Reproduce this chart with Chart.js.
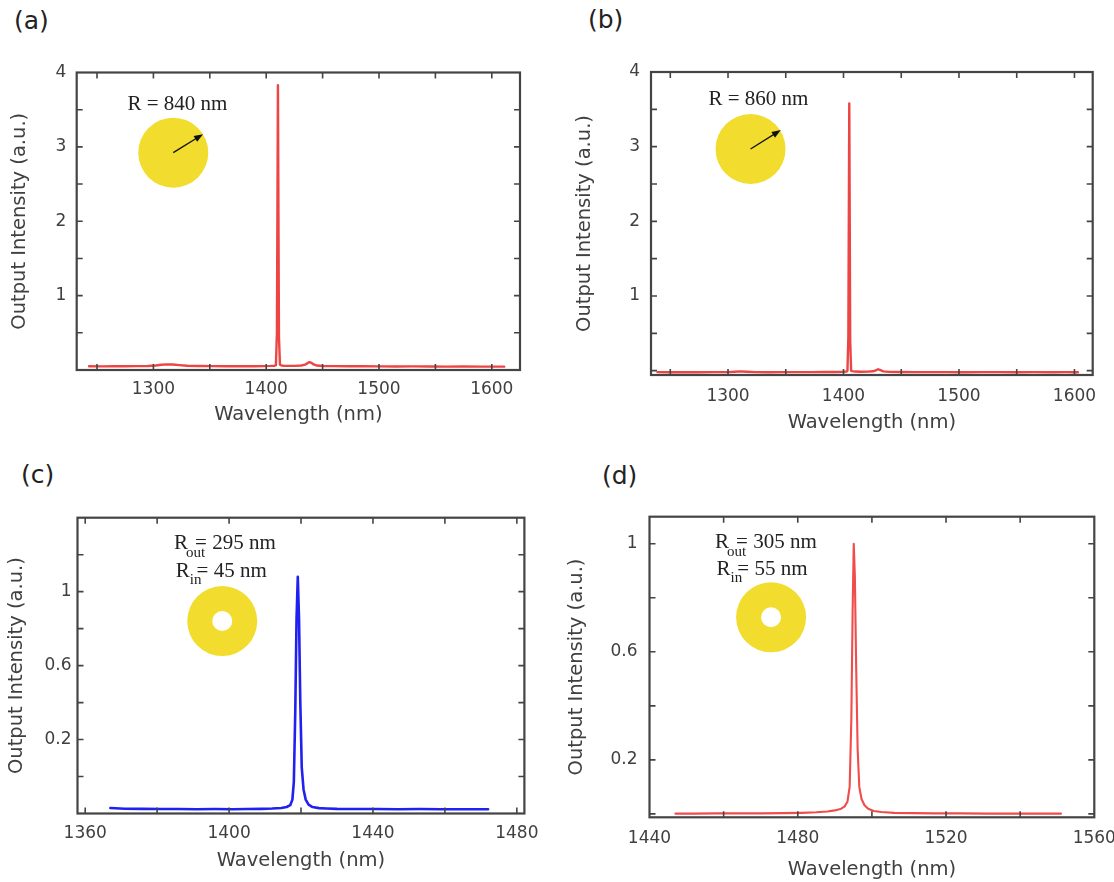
<!DOCTYPE html>
<html><head><meta charset="utf-8">
<script src="https://cdn.jsdelivr.net/npm/chart.js@4.4.1/dist/chart.umd.min.js"></script>
<style>
body{margin:0;background:#fff;width:1114px;height:882px;overflow:hidden;position:relative;font-family:"DejaVu Sans",sans-serif;}
canvas{position:absolute;left:0;top:0;}
.lbl{position:absolute;font-size:25px;line-height:25px;color:#222;font-family:"DejaVu Sans",sans-serif;}
</style></head><body>
<div class="lbl" style="left:14px;top:8px">(a)</div>
<div class="lbl" style="left:588px;top:7px">(b)</div>
<div class="lbl" style="left:21px;top:462px">(c)</div>
<div class="lbl" style="left:602px;top:463px">(d)</div>
<canvas id="ca" width="1114" height="882"></canvas>
<canvas id="cb" width="1114" height="882"></canvas>
<canvas id="cc" width="1114" height="882"></canvas>
<canvas id="cd" width="1114" height="882"></canvas>
<script>
// ---------- data ----------
const aWavelength = [1243,1255,1265,1275,1285,1295,1302,1307,1312,1317,1323,1330,1340,1352,1365,1378,1390,1398,1404,1407.5,1408.6,1409.5,1410.4,1411.3,1412.2,1413.5,1416,1420,1426,1431,1434.5,1437,1438.5,1440,1442,1445,1450,1460,1472,1485,1500,1515,1530,1545,1560,1575,1590,1600,1611];
const aIntensity  = [0.050,0.049,0.051,0.050,0.052,0.054,0.060,0.070,0.076,0.074,0.066,0.058,0.054,0.052,0.051,0.050,0.051,0.052,0.055,0.058,0.065,0.50,3.83,0.45,0.07,0.060,0.056,0.055,0.056,0.060,0.072,0.095,0.105,0.096,0.075,0.060,0.054,0.052,0.051,0.050,0.049,0.048,0.049,0.047,0.046,0.047,0.045,0.046,0.045];

const bWavelength = [1239,1250,1262,1275,1288,1300,1306,1311,1316,1324,1335,1348,1360,1372,1384,1394,1400,1402.5,1403.4,1404.2,1405.0,1405.8,1406.6,1407.5,1410,1415,1421,1425.5,1428.5,1430,1431.5,1434.5,1440,1450,1462,1475,1490,1505,1520,1535,1550,1565,1580,1592,1603];
const bIntensity  = [-0.020,-0.022,-0.019,-0.021,-0.020,-0.019,-0.015,-0.010,-0.014,-0.019,-0.021,-0.020,-0.019,-0.020,-0.018,-0.017,-0.015,-0.012,-0.005,0.45,3.58,0.40,-0.002,-0.006,-0.012,-0.014,-0.013,-0.008,0.008,0.019,0.010,-0.010,-0.016,-0.018,-0.019,-0.020,-0.019,-0.021,-0.020,-0.019,-0.021,-0.020,-0.022,-0.020,-0.021];

const cWavelength = [1367,1371,1376,1381,1386,1391,1396,1401,1405,1409,1412,1414.5,1416,1417,1417.6,1418.0,1418.4,1418.75,1419.1,1419.45,1419.8,1420.2,1420.7,1421.3,1422.1,1423.2,1425,1427,1430,1435,1441,1447,1453,1459,1465,1472];
const cIntensity  = [-0.170,-0.174,-0.175,-0.176,-0.176,-0.177,-0.176,-0.177,-0.176,-0.175,-0.173,-0.170,-0.165,-0.155,-0.125,-0.03,0.35,0.85,1.08,0.85,0.40,0.05,-0.07,-0.125,-0.152,-0.165,-0.171,-0.173,-0.175,-0.176,-0.176,-0.177,-0.176,-0.177,-0.177,-0.177];

const dWavelength = [1447,1452,1458,1464,1470,1476,1481,1485,1488,1490,1491.5,1492.6,1493.4,1494.0,1494.45,1494.8,1495.1,1495.4,1495.75,1496.15,1496.6,1497.2,1498,1499,1500.5,1502.5,1506,1511,1517,1524,1531,1538,1545,1551];
const dIntensity  = [0.001,0.001,0.002,0.002,0.002,0.003,0.004,0.006,0.009,0.013,0.018,0.027,0.045,0.10,0.35,0.75,1.00,0.88,0.55,0.24,0.10,0.055,0.032,0.019,0.011,0.007,0.004,0.003,0.002,0.002,0.001,0.001,0.001,0.001];

// ---------- tick labels ----------
const aXTickLabels = ['1300','1400','1500','1600'];
const aYTickLabels = ['1','2','3','4'];
const bXTickLabels = ['1300','1400','1500','1600'];
const bYTickLabels = ['1','2','3','4'];
const cXTickLabels = ['1360','1400','1440','1480'];
const cYTickLabels = ['0.2','0.6','1'];
const dXTickLabels = ['1440','1480','1520','1560'];
const dYTickLabels = ['0.2','0.6','1'];

const xTitle = 'Wavelength (nm)';
const yTitle = 'Output Intensity (a.u.)';

// ---------- drawing helpers ----------
const TEXT = '#404040';
const SERIF = '"Liberation Serif","Times New Roman",serif';
const YELLOW = '#F2DD2E';

function decorPlugin(items){
  return {
    id:'decor',
    afterDraw(chart){
      const ctx = chart.ctx, a = chart.chartArea, sx = chart.scales.x, sy = chart.scales.y;
      ctx.save();
      items.forEach(it=>{
        if(it.type==='disk'){
          const px=sx.getPixelForValue(it.x), py=sy.getPixelForValue(it.y);
          ctx.fillStyle=YELLOW;
          ctx.beginPath(); ctx.arc(px,py,it.r,0,Math.PI*2);
          if(it.inner){ ctx.moveTo(px+it.inner,py); ctx.arc(px,py,it.inner,0,Math.PI*2,true); }
          ctx.fill('evenodd');
        } else if(it.type==='arrow'){
          const x1=sx.getPixelForValue(it.x1), y1=sy.getPixelForValue(it.y1);
          const x2=sx.getPixelForValue(it.x2), y2=sy.getPixelForValue(it.y2);
          const ang=Math.atan2(y2-y1,x2-x1), L=9, W=3.4;
          ctx.strokeStyle='#111'; ctx.lineWidth=1.3;
          ctx.beginPath(); ctx.moveTo(x1,y1); ctx.lineTo(x2-Math.cos(ang)*L*0.8,y2-Math.sin(ang)*L*0.8); ctx.stroke();
          ctx.fillStyle='#111'; ctx.beginPath();
          ctx.moveTo(x2,y2);
          ctx.lineTo(x2-Math.cos(ang)*L-Math.sin(ang)*W, y2-Math.sin(ang)*L+Math.cos(ang)*W);
          ctx.lineTo(x2-Math.cos(ang)*L+Math.sin(ang)*W, y2-Math.sin(ang)*L-Math.cos(ang)*W);
          ctx.closePath(); ctx.fill();
        } else if(it.type==='text'){
          const px=sx.getPixelForValue(it.x), py=sy.getPixelForValue(it.y);
          ctx.fillStyle='#222'; ctx.font='21px '+SERIF; ctx.textBaseline='alphabetic'; ctx.textAlign='left';
          ctx.fillText(it.text,px,py);
        } else if(it.type==='sub'){
          const px=sx.getPixelForValue(it.x), py=sy.getPixelForValue(it.y);
          ctx.fillStyle='#222'; ctx.textBaseline='alphabetic'; ctx.textAlign='left';
          ctx.font='21px '+SERIF; ctx.fillText(it.main,px,py);
          ctx.fillText(it.rest,px+it.restDx,py);
          ctx.font='15px '+SERIF; ctx.fillText(it.sub,px+it.subDx,py+it.subDy);
        }
      });
      ctx.strokeStyle='#444'; ctx.lineWidth=1.6;
      const tl=6;
      sx.ticks.forEach(t=>{
        const p=sx.getPixelForValue(t.value);
        if(p<a.left+2||p>a.right-2) return;
        ctx.beginPath(); ctx.moveTo(p,a.bottom); ctx.lineTo(p,a.bottom-tl);
        ctx.moveTo(p,a.top); ctx.lineTo(p,a.top+tl); ctx.stroke();
      });
      sy.ticks.forEach(t=>{
        const p=sy.getPixelForValue(t.value);
        if(p<a.top+2||p>a.bottom-2) return;
        ctx.beginPath(); ctx.moveTo(a.left,p); ctx.lineTo(a.left+tl,p);
        ctx.moveTo(a.right,p); ctx.lineTo(a.right-tl,p); ctx.stroke();
      });
      ctx.lineWidth=2.2; ctx.strokeStyle='#444';
      ctx.strokeRect(a.left,a.top,a.right-a.left,a.bottom-a.top);
      ctx.restore();
    }
  };
}

function makeChart(id,c){
  const labelCb = list => v => { const s=String(Math.round(v*1000)/1000); return list.includes(s)?s:''; };
  return new Chart(document.getElementById(id),{
    type:'line',
    data:{datasets:[{
      data:c.wl.map((w,i)=>({x:w,y:c.val[i]})),
      borderColor:c.color, borderWidth:c.lw, pointRadius:0, tension:0, fill:false,
      borderJoinStyle:'round', borderCapStyle:'round'
    }]},
    options:{
      responsive:false, animation:false, devicePixelRatio:1,
      events:[],
      layout:{padding:{left:c.area.l-c.yW, top:c.area.t, right:1114-c.area.r, bottom:882-c.area.b-c.xH}},
      plugins:{legend:{display:false}, tooltip:{enabled:false}},
      scales:{
        x:{
          type:'linear', position:'bottom', min:c.xMin, max:c.xMax,
          grid:{display:false, drawTicks:false}, border:{display:false},
          ticks:{stepSize:c.xStep, includeBounds:false, autoSkip:false, maxRotation:0, minRotation:0,
            padding:c.xPad, color:TEXT, font:{family:'DejaVu Sans', size:17}, callback:labelCb(c.xLabels)},
          title:{display:true, text:xTitle, color:TEXT, padding:0, font:{family:'DejaVu Sans', size:19.5, lineHeight:1.2}},
          afterFit:s=>{ s.height=c.xH; s.paddingLeft=0; s.paddingRight=0; }
        },
        y:{
          type:'linear', position:'left', min:c.yMin, max:c.yMax,
          grid:{display:false, drawTicks:false}, border:{display:false},
          ticks:{stepSize:c.yStep, includeBounds:false, autoSkip:false,
            padding:c.yPad, color:TEXT, font:{family:'DejaVu Sans', size:17}, callback:labelCb(c.yLabels)},
          title:{display:true, text:yTitle, color:TEXT, padding:0, font:{family:'DejaVu Sans', size:19.5, lineHeight:1.2}},
          afterFit:s=>{ s.width=c.yW; s.paddingTop=0; s.paddingBottom=0; }
        }
      }
    },
    plugins:[decorPlugin(c.items)]
  });
}

makeChart('ca',{
  wl:aWavelength, val:aIntensity, color:'rgba(236,52,52,0.92)', lw:2.4,
  area:{l:76.7,t:72.5,r:520,b:370}, yW:68.4, xH:56.7, xPad:9.2, yPad:10.5,
  xMin:1232, xMax:1625, xStep:50, yMin:0, yMax:4, yStep:0.5,
  xLabels:aXTickLabels, yLabels:aYTickLabels,
  items:[
    {type:'disk', x:1317.6, y:2.922, r:35},
    {type:'arrow', x1:1317.6, y1:2.922, x2:1344, y2:3.17},
    {type:'text', x:1277, y:3.496, text:'R = 840 nm'}
  ]
});
makeChart('cb',{
  wl:bWavelength, val:bIntensity, color:'rgba(236,52,52,0.92)', lw:2.4,
  area:{l:651,t:72,r:1092.7,b:375}, yW:77.9, xH:60, xPad:11.3, yPad:11,
  xMin:1233.3, xMax:1615.8, xStep:50, yMin:-0.058, yMax:4, yStep:0.5,
  xLabels:bXTickLabels, yLabels:bYTickLabels,
  items:[
    {type:'disk', x:1319.5, y:2.969, r:35},
    {type:'arrow', x1:1319.5, y1:2.969, x2:1345.7, y2:3.223},
    {type:'text', x:1283, y:3.558, text:'R = 860 nm'}
  ]
});
makeChart('cc',{
  wl:cWavelength, val:cIntensity, color:'rgba(20,20,238,0.95)', lw:2.6,
  area:{l:77.5,t:517.7,r:524.4,b:813.5}, yW:71.9, xH:59.2, xPad:9.7, yPad:6,
  xMin:1357.86, xMax:1482.1, xStep:20, yMin:-0.2, yMax:1.4, yStep:0.2,
  xLabels:cXTickLabels, yLabels:cYTickLabels,
  items:[
    {type:'disk', x:1398.1, y:0.841, r:35, inner:10},
    {type:'sub', x:1384.7, y:1.2307, main:'R', sub:'out', rest:'= 295 nm', subDx:12, subDy:8, restDx:21},
    {type:'sub', x:1385.2, y:1.081, main:'R', sub:'in', rest:'= 45 nm', subDx:14, subDy:7, restDx:20.7}
  ]
});
makeChart('cd',{
  wl:dWavelength, val:dIntensity, color:'rgba(240,60,60,0.92)', lw:2.1,
  area:{l:649.5,t:516.7,r:1094.3,b:817.3}, yW:84, xH:63.9, xPad:10.8, yPad:12,
  xMin:1440, xMax:1560, xStep:20, yMin:-0.0125, yMax:1.1, yStep:0.2,
  xLabels:dXTickLabels, yLabels:dYTickLabels,
  items:[
    {type:'disk', x:1472.8, y:0.7277, r:35, inner:10},
    {type:'sub', x:1457.7, y:0.9853, main:'R', sub:'out', rest:'= 305 nm', subDx:12, subDy:8, restDx:21},
    {type:'sub', x:1458.1, y:0.8842, main:'R', sub:'in', rest:'= 55 nm', subDx:14, subDy:7, restDx:20.7}
  ]
});
</script>
</body></html>
